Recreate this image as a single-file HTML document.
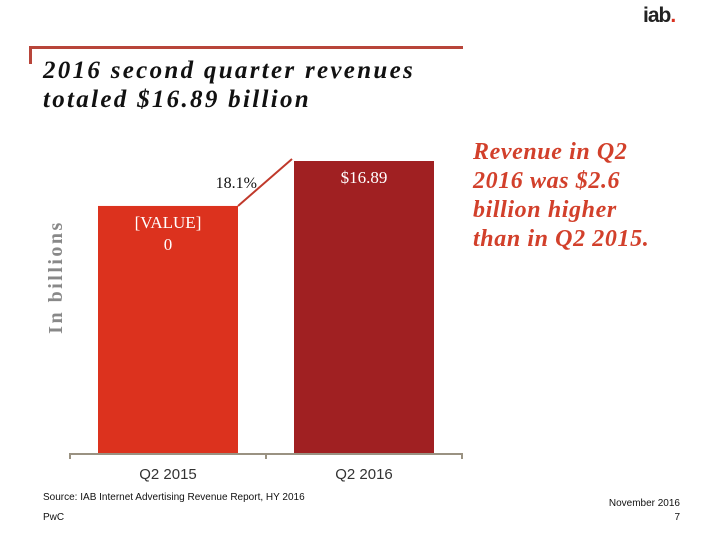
<!DOCTYPE html>
<html><head><meta charset="utf-8"><style>
body{margin:0;width:720px;height:540px;background:#fff;position:relative;overflow:hidden;font-family:"Liberation Serif",serif}
.a{position:absolute}
</style></head><body>
<div class="a" style="left:643px;top:4px;font:bold 21px 'Liberation Sans',sans-serif;color:#222;letter-spacing:-1px">iab<span style="color:#d9301f">.</span></div>
<div class="a" style="left:29px;top:46px;width:434px;height:3px;background:#b8453a"></div>
<div class="a" style="left:29px;top:46px;width:3px;height:18px;background:#b8453a"></div>
<div class="a" style="left:43px;top:56px;font:italic bold 25px 'Liberation Serif',serif;line-height:29px;letter-spacing:2.3px;color:#111;white-space:nowrap">2016 second quarter revenues<br>totaled $16.89 billion</div>
<div class="a" style="left:473px;top:138px;font:italic bold 24px 'Liberation Serif',serif;line-height:29px;letter-spacing:0.6px;color:#d2402b;white-space:nowrap">Revenue in Q2<br>2016 was $2.6<br>billion higher<br>than in Q2 2015.</div>
<svg class="a" style="left:0;top:0" width="720" height="540">
<g id="g"></g>
</svg>
<div class="a" style="left:43px;top:492px;font:10px 'Liberation Sans',sans-serif;color:#111">Source: IAB Internet Advertising Revenue Report, HY 2016</div>
<div class="a" style="left:43px;top:512px;font:10px 'Liberation Sans',sans-serif;color:#111">PwC</div>
<div class="a" style="left:580px;top:498px;width:100px;text-align:right;font:10px 'Liberation Sans',sans-serif;color:#111">November 2016</div>
<div class="a" style="left:580px;top:512px;width:100px;text-align:right;font:10px 'Liberation Sans',sans-serif;color:#111">7</div>
<script>
const categories=["Q2 2015","Q2 2016"];
const values=[14.29,16.89];
const valueLabels=["[VALUE]\n0","$16.89"];
const growthLabel="18.1%";
const colors=["#dc321e","#a02022"];
const NS="http://www.w3.org/2000/svg";
const g=document.getElementById('g');
const base=453, ppu=292/16.89, x0=70, band=196, bw=140;
const y=v=>base-v*ppu;
const bx=i=>x0+i*band+(band-bw)/2;
function mk(t,a){const e=document.createElementNS(NS,t);for(const k in a)e.setAttribute(k,a[k]);g.appendChild(e);return e;}
categories.forEach((c,i)=>{
  const r=mk('rect',{x:bx(i),y:y(values[i]),width:bw,height:base-y(values[i]),fill:colors[i]});
  
  
  const lines=valueLabels[i].split('\n');
  lines.forEach((l,j)=>{
    const t=mk('text',{x:bx(i)+bw/2,y:y(values[i])+22+j*22,'text-anchor':'middle',fill:'#fff','font-size':'17','font-family':'Liberation Serif, serif'});
    t.textContent=l;
    
    
  });
  const xl=mk('text',{x:x0+i*band+band/2,y:base+26,'text-anchor':'middle',fill:'#333','font-size':'15','font-family':'Liberation Sans, sans-serif'});
  xl.textContent=c;
  
  
});
const ax=mk('line',{x1:x0,y1:base+1,x2:x0+2*band,y2:base+1,stroke:'#9a9282','stroke-width':2});


for(let i=0;i<=2;i++){const tk=mk('line',{x1:x0+i*band,y1:base,x2:x0+i*band,y2:base+6,stroke:'#9a9282','stroke-width':2});

}
const gl=mk('line',{x1:bx(0)+bw,y1:y(values[0]),x2:bx(1)-2,y2:y(values[1])-2,stroke:'#c0392b','stroke-width':2});


const gt=mk('text',{x:257,y:188,'text-anchor':'end',fill:'#111','font-size':'16','font-family':'Liberation Serif, serif'});
gt.textContent=growthLabel;


const yt=mk('text',{x:0,y:0,transform:'translate(62,277) rotate(-90)','text-anchor':'middle',fill:'#888','font-size':'20','font-weight':'bold','letter-spacing':'2.5','font-family':'Liberation Serif, serif'});
yt.textContent='In billions';


</script>
</body></html>
